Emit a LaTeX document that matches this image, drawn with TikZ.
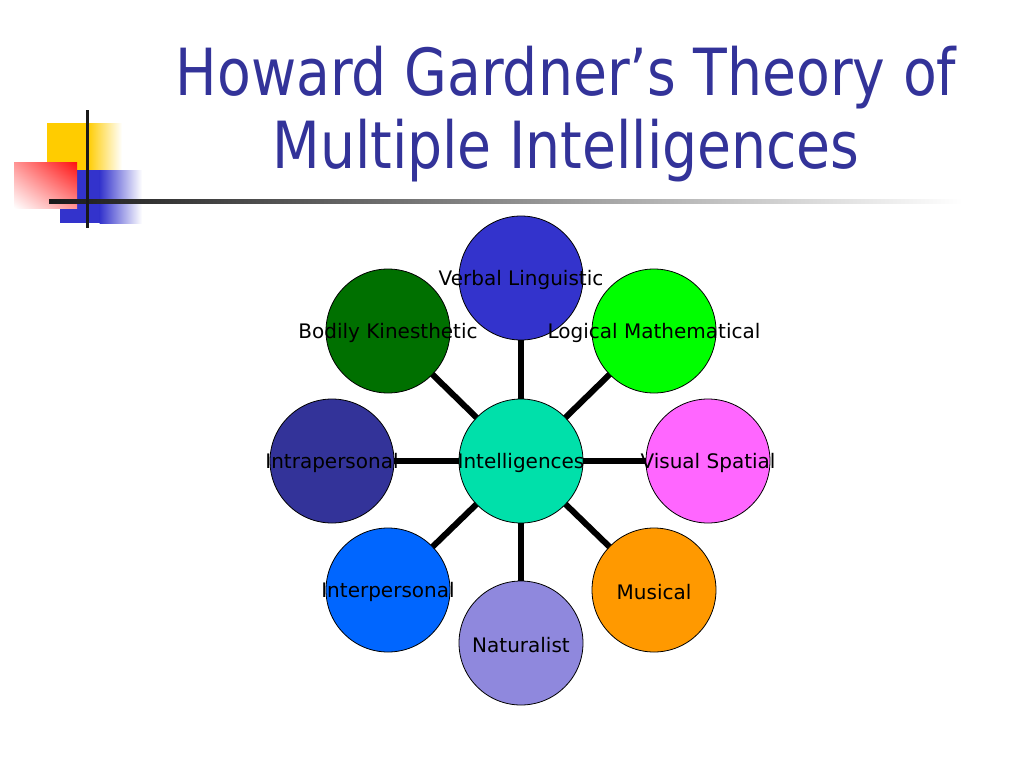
\documentclass[tikz,border=0pt]{standalone}
\usepackage{fontspec}
\setmainfont{DejaVu Sans}
\newfontfamily\titlefont[FakeStretch=0.85]{DejaVu Sans}
\usetikzlibrary{backgrounds,shadings}
\definecolor{titleblue}{HTML}{333399}
\definecolor{cverbal}{HTML}{3333CC}
\definecolor{clogic}{HTML}{00FF00}
\definecolor{cbodily}{HTML}{007000}
\definecolor{cintra}{HTML}{333399}
\definecolor{ccenter}{HTML}{00E0AA}
\definecolor{cvisual}{HTML}{FF66FF}
\definecolor{cinter}{HTML}{0066FF}
\definecolor{cmusic}{HTML}{FF9900}
\definecolor{cnatur}{HTML}{8F88DD}
\definecolor{dyellow}{HTML}{FFCC00}
\definecolor{dblue}{HTML}{3333CC}
\definecolor{dred}{HTML}{FF1010}
\begin{document}
\begin{tikzpicture}[x=1pt,y=-1pt,
  mi/.style={circle,draw=black,line width=0.8pt,minimum size=124pt,inner sep=0pt},
  lab/.style={font=\fontsize{20}{24}\selectfont,text=black,inner sep=0pt,yshift=-2pt},
  conn/.style={line width=6pt,draw=black},
  ttl/.style={font=\titlefont\fontsize{65}{78}\selectfont,text=titleblue,inner sep=0pt,anchor=base}]
\useasboundingbox (0,0) rectangle (1024,768);
% decoration
\fill[dyellow] (47,123) rectangle (88,170);
\shade[left color=dyellow,right color=white] (87.5,123) rectangle (122,170);
\fill[dblue] (60,170) rectangle (100,223);
\shade[left color=dblue,right color=white] (99.5,170) rectangle (142,223);
\shade[upper right=dred,upper left=dred!45!white,lower right=dred!45!white,lower left=white] (14,162) rectangle (77,208);
\shade[left color=black!90,right color=white] (49,199) rectangle (962,203.5);
\draw[line width=3pt,black!90] (87,110) -- (87,228);
% title
\node[ttl] (t1) at (566,95) {Howard Gardner’s Theory of};
\node[ttl] (t2) at (566,168) {Multiple Intelligences};
% circles
\node[mi,fill=ccenter,label={[lab]center:Intelligences}] (c) at (521,461) {};
\node[mi,fill=cverbal,label={[lab]center:Verbal Linguistic}] (v) at (521,278) {};
\node[mi,fill=clogic,label={[lab]center:Logical Mathematical}] (lm) at (654,331) {};
\node[mi,fill=cbodily,label={[lab]center:Bodily Kinesthetic}] (bk) at (388,331) {};
\node[mi,fill=cintra,label={[lab]center:Intrapersonal}] (ia) at (332,461) {};
\node[mi,fill=cvisual,label={[lab]center:Visual Spatial}] (vs) at (708,461) {};
\node[mi,fill=cinter,label={[lab]center:Interpersonal}] (ie) at (388,590) {};
\node[mi,fill=cmusic,label={[lab]center:Musical}] (mu) at (654,590) {};
\node[mi,fill=cnatur,label={[lab]center:Naturalist}] (na) at (521,643) {};
% connectors
\begin{scope}[on background layer]
\foreach \n in {v,lm,bk,ia,vs,ie,mu,na}
  \draw[conn] (c.center) -- (\n.center);
\end{scope}
\end{tikzpicture}
\end{document}
